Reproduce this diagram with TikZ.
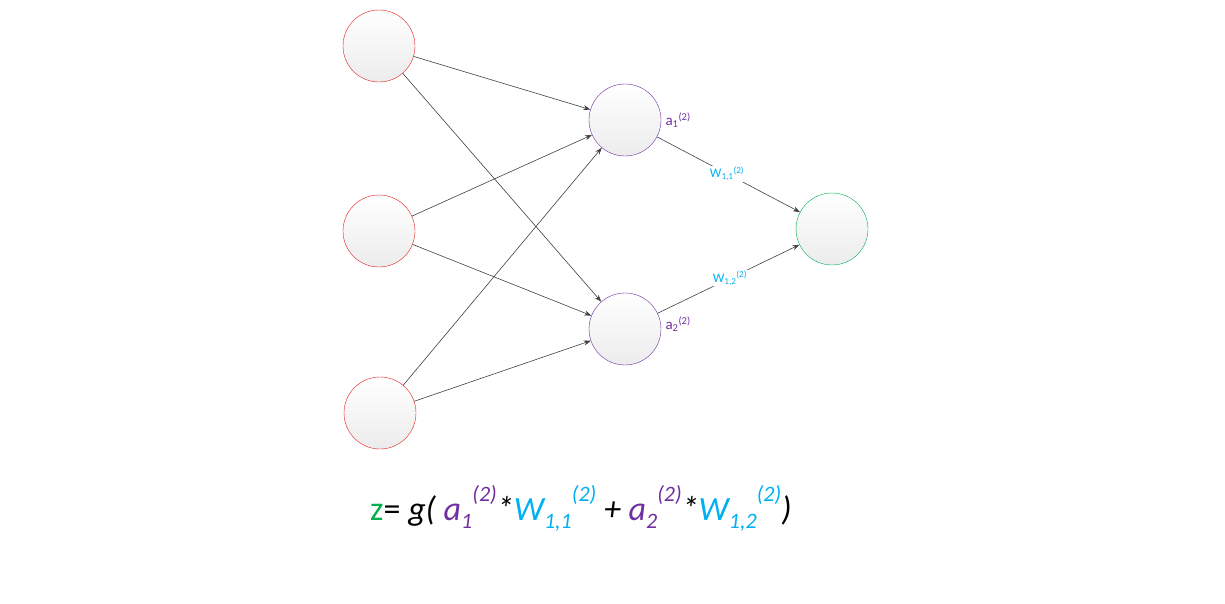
\documentclass[tikz,border=0pt]{standalone}
\usepackage{fontspec}
\setmainfont{Carlito}
\usetikzlibrary{arrows.meta}
\definecolor{cpur}{RGB}{112,48,160}
\definecolor{ccy}{RGB}{0,176,240}
\definecolor{cgr}{RGB}{0,176,80}
\definecolor{cred}{RGB}{230,30,30}
\newcommand{\sps}[1]{\raisebox{0.55em}{\fontsize{22}{22}\selectfont #1}}
\newcommand{\sbs}[1]{\raisebox{-0.25em}{\fontsize{22}{22}\selectfont #1}}
\begin{document}
\begin{tikzpicture}[x=1pt,y=-1pt,
  neuron/.style={circle,minimum size=72pt,inner sep=0pt,top color=white,bottom color=gray!15},
  conn/.style={draw=black!75,line width=0.6pt,-{Stealth[length=7pt,width=5pt]}},
  lab/.style={font=\fontsize{15}{15}\selectfont}]
\useasboundingbox (0,0) rectangle (1225,603);
\node[neuron,draw=cred] (i1) at (379,46) {};
\node[neuron,draw=cred] (i2) at (379,231) {};
\node[neuron,draw=cred] (i3) at (380,413) {};
\node[neuron,draw=cpur] (h1) at (625,120) {};
\node[neuron,draw=cpur] (h2) at (625,329) {};
\node[neuron,draw=cgr] (o) at (832,229) {};
\foreach \a in {i1,i2,i3}{\foreach \b in {h1,h2}{\draw[conn] (\a) -- (\b);}}
\draw[conn] (h1) -- node[pos=0.49,fill=white,inner sep=1pt,text=ccy,lab,font=\fontsize{13}{13}\selectfont]{W\textsubscript{1,1}\textsuperscript{(2)}} (o);
\draw[conn] (h2) -- node[pos=0.51,fill=white,inner sep=1pt,text=ccy,lab,font=\fontsize{13}{13}\selectfont]{W\textsubscript{1,2}\textsuperscript{(2)}} (o);
\node[lab,text=cpur,anchor=west] (l1) at (662,120) {a\textsubscript{1}\textsuperscript{(2)}};
\node[lab,text=cpur,anchor=west] (l2) at (662,324) {a\textsubscript{2}\textsuperscript{(2)}};
\node[anchor=base west,font=\fontsize{34}{34}\selectfont,inner sep=0pt] (f) at (370,520)
 {\textcolor{cgr}{z}= \textit{g( \textcolor{cpur}{a\sbs{1}\sps{(2)}}*\textcolor{ccy}{W\sbs{1,1}\sps{(2)}} + \textcolor{cpur}{a\sbs{2}\sps{(2)}}*\textcolor{ccy}{W\sbs{1,2}\sps{(2)}})}};
\end{tikzpicture}
\end{document}
